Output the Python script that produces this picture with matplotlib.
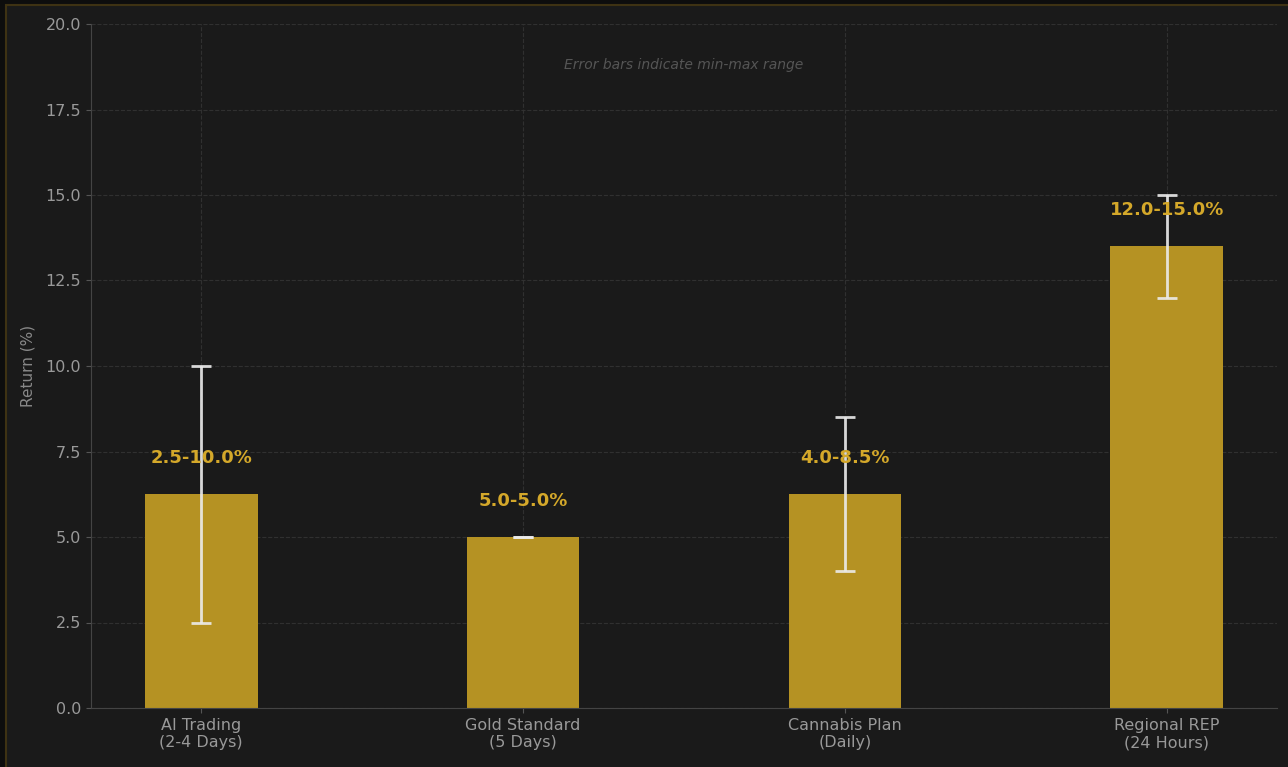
import matplotlib
matplotlib.use("Agg")
import matplotlib.pyplot as plt
from matplotlib.patches import Rectangle
import numpy as np

categories = ["AI Trading\n(2-4 Days)", "Gold Standard\n(5 Days)", "Cannabis Plan\n(Daily)", "Regional REP\n(24 Hours)"]
min_returns = [2.5, 5.0, 4.0, 12.0]
max_returns = [10.0, 5.0, 8.5, 15.0]
labels = ["2.5-10.0%", "5.0-5.0%", "4.0-8.5%", "12.0-15.0%"]

W, H = 1288, 767
fig = plt.figure(figsize=(W / 100, H / 100), dpi=100, facecolor="#0d0d0d")

# inner panel with thin golden edge (crop of a larger dashboard)
fig.patches.append(Rectangle((6 / W, -0.1), 1.2, (H - 5) / H + 0.1, transform=fig.transFigure,
                             facecolor="#1a1a1a", edgecolor="#3e3213", linewidth=1.5, zorder=-5))

ax = fig.add_axes([91 / W, (H - 708) / H, (1277 - 91) / W, (708 - 24) / H])
ax.set_facecolor("#1a1a1a")

x = np.arange(len(categories))
mins = np.array(min_returns)
maxs = np.array(max_returns)
avg = (mins + maxs) / 2

ax.bar(x, avg, width=0.35, color="#B59223", zorder=2)
ax.errorbar(x, avg, yerr=[avg - mins, maxs - avg], fmt="none", ecolor="#ececec",
            elinewidth=2, capsize=7, capthick=2, alpha=0.9, zorder=3)

for xi, a, lab in zip(x, avg, labels):
    ax.text(xi, a + 1.05, lab, ha="center", va="center", color="#D4A82A",
            fontsize=13, fontweight="bold", zorder=4)

ax.text(0.5, 0.94, "Error bars indicate min-max range", transform=ax.transAxes,
        ha="center", va="center", fontsize=10, style="italic", color="#555555")

ax.set_ylim(0, 20)
ax.set_yticks(np.arange(0, 20.1, 2.5))
ax.set_xticks(x)
ax.set_xticklabels(categories)
ax.set_ylabel("Return (%)", color="#888888", fontsize=11, labelpad=7)
ax.tick_params(colors="#999999", labelsize=11.5)
ax.tick_params(axis="both", color="#555555")
ax.grid(True, linestyle="--", color="#333333", linewidth=0.8, alpha=0.9, zorder=0)
ax.set_axisbelow(True)
for s in ["top", "right"]:
    ax.spines[s].set_visible(False)
for s in ["left", "bottom"]:
    ax.spines[s].set_color("#444444")

fig.savefig("out.png", dpi=100, facecolor=fig.get_facecolor())
